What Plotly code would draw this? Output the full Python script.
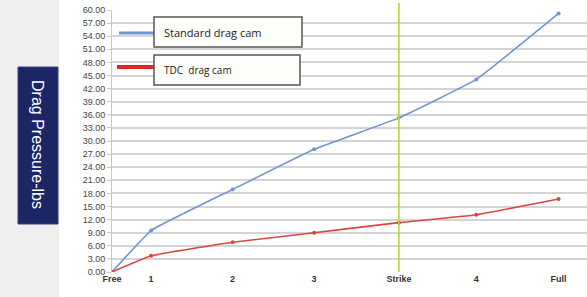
import plotly.graph_objects as go

categories = ["Free", "1", "2", "3", "Strike", "4", "Full"]
x_values = [0.0, 0.48, 1.48, 2.48, 3.52, 4.47, 5.48]
standard_cam = [0.0, 9.5, 18.9, 28.1, 35.3, 44.1, 59.2]
tdc_cam = [0.0, 3.7, 6.8, 9.0, 11.3, 13.1, 16.7]
y_ticks = [i * 3 for i in range(21)]
strike_label = "Strike"

# plot-area pixel geometry
L, R, T, B, W, H = 112, 0, 10, 25, 587, 297
pw, ph = W - L - R, H - T - B


def px(x):
    return (x - L) / pw


def py(y):
    return (H - B - y) / ph


fig = go.Figure()
fig.add_trace(go.Scatter(x=x_values, y=standard_cam, mode="lines+markers",
                         line=dict(color="#6f96cc", width=1.6, shape="spline", smoothing=0.3),
                         marker=dict(size=4, color="#6f96cc"), showlegend=False))
fig.add_trace(go.Scatter(x=x_values, y=tdc_cam, mode="lines+markers",
                         line=dict(color="#d9463d", width=1.6, shape="spline", smoothing=0.3),
                         marker=dict(size=4, color="#d9463d"), showlegend=False))

shapes = []
# left gray strip
shapes.append(dict(type="rect", xref="paper", yref="paper", x0=px(0), x1=px(59), y0=py(H), y1=py(0),
                   fillcolor="#efefef", line=dict(width=0), layer="below"))
# navy title box
shapes.append(dict(type="rect", xref="paper", yref="paper", x0=px(18), x1=px(58), y0=py(224), y1=py(67),
                   fillcolor="#1c2566", line=dict(color="#3a4480", width=1)))
# strike vertical line
sx = x_values[categories.index(strike_label)]
shapes.append(dict(type="line", xref="x", yref="paper", x0=sx, x1=sx, y0=0, y1=py(3),
                   line=dict(color="#b8d43a", width=1.6)))
# legend samples and boxes
shapes.append(dict(type="line", xref="paper", yref="paper", x0=px(119), x1=px(155), y0=py(33), y1=py(33),
                   line=dict(color="#6f96cc", width=3)))
shapes.append(dict(type="line", xref="paper", yref="paper", x0=px(117), x1=px(155), y0=py(67), y1=py(67),
                   line=dict(color="#e0251b", width=4)))
shapes.append(dict(type="rect", xref="paper", yref="paper", x0=px(154), x1=px(302), y0=py(47), y1=py(17),
                   fillcolor="#fdfdf9", line=dict(color="#555555", width=1.5)))
shapes.append(dict(type="rect", xref="paper", yref="paper", x0=px(154), x1=px(300), y0=py(85), y1=py(55),
                   fillcolor="#fdfdf9", line=dict(color="#555555", width=1.5)))

annotations = [
    dict(text="Drag Pressure-lbs", xref="paper", yref="paper", x=px(38), y=py(144), showarrow=False,
         textangle=90, font=dict(family="Liberation Sans, Arial", size=16, color="white"),
         xanchor="center", yanchor="middle"),
    dict(text="Standard drag cam", xref="paper", yref="paper", x=px(162), y=py(33), showarrow=False,
         font=dict(family="Open Sans, Liberation Sans", size=11, color="#222"),
         xanchor="left", yanchor="middle"),
    dict(text="TDC  drag cam", xref="paper", yref="paper", x=px(162), y=py(70), showarrow=False,
         font=dict(family="Open Sans, Liberation Sans", size=10, color="#222"),
         xanchor="left", yanchor="middle"),
]

fig.update_layout(
    width=W, height=H,
    margin=dict(l=L, r=R, t=T, b=B),
    paper_bgcolor="white", plot_bgcolor="white",
    shapes=shapes, annotations=annotations,
    xaxis=dict(range=[0, (W - L - R) / 81.5], tickvals=x_values, ticktext=[f"<b>{c}</b>" for c in categories],
               showgrid=False, zeroline=False, showline=False,
               tickfont=dict(family="Liberation Sans, Arial", size=9, color="#333"), fixedrange=True),
    yaxis=dict(range=[0, 60], tickvals=y_ticks, tickformat=".2f",
               showgrid=True, gridcolor="#d4d4d4", gridwidth=1.5, zeroline=False,
               showline=True, linecolor="#c8c8c8", linewidth=1,
               ticks="outside", ticklen=4, tickcolor="#c8c8c8",
               tickfont=dict(family="Liberation Sans, Arial", size=9, color="#444"), fixedrange=True),
    showlegend=False,
)

fig.write_html("out.html", config={"displayModeBar": False},
               post_script="document.body.style.margin='0';")
